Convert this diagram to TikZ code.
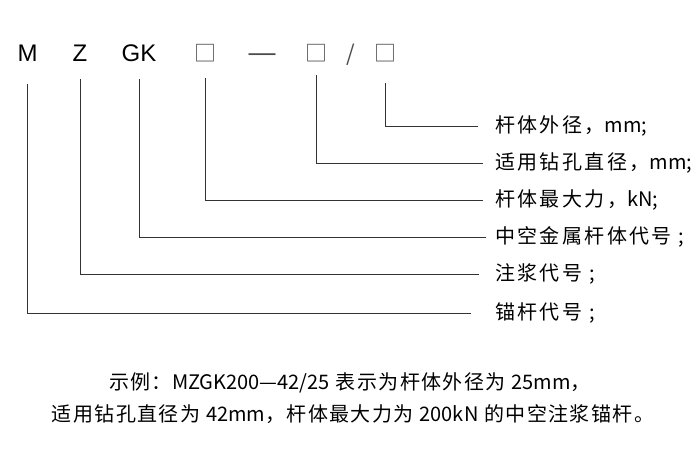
\documentclass[tikz,border=0pt]{standalone}
\usepackage{fontspec}
\setmainfont{Noto Sans CJK SC}
\newfontfamily\cjkfont{Noto Sans CJK SC}[LetterSpace=12]
\newfontfamily\cjknote{Noto Sans CJK SC}[LetterSpace=7]
\newfontfamily\cjkplain{Noto Sans CJK SC}
\newfontfamily\latinfont{Liberation Sans}
\newcommand{\lat}[1]{{\cjkplain #1}}
\begin{document}
\begin{tikzpicture}[x=1pt, y=-1pt,
    hdr/.style={anchor=base, inner sep=0pt, font=\latinfont\fontsize{24}{28}\selectfont},
    sym/.style={anchor=base, inner sep=0pt, text=black!70, font=\cjkfont\fontsize{22}{26}\selectfont},
    lbl/.style={anchor=west, inner sep=0pt, font=\cjkfont\fontsize{20}{24}\selectfont},
    note/.style={inner sep=0pt, font=\cjknote\fontsize{20}{24}\selectfont},
    lead/.style={line width=0.9pt, draw=black!80}]
    \useasboundingbox (0, 0) rectangle (700, 466);
    % code letters
    \node[hdr] (M) at (27.5, 61) {M};
    \node[hdr] (Z) at (80, 61) {Z};
    \node[hdr] (GK) at (139, 61) {GK};
    \node[sym] (b1) at (205, 61) {□};
    \node[sym, font=\latinfont\fontsize{27}{30}\selectfont] (dash) at (262, 61) {—};
    \node[sym] (b2) at (316.5, 61) {□};
    \node[sym] (slash) at (351, 61) {/};
    \node[sym] (b3) at (385, 61) {□};
    % meanings
    \node[lbl] (l1) at (495, 126) {杆体外径，\lat{mm;}};
    \node[lbl] (l2) at (495, 163) {适用钻孔直径，\lat{mm;}};
    \node[lbl] (l3) at (495, 200) {杆体最大力，\lat{kN;}};
    \node[lbl] (l4) at (495, 237) {中空金属杆体代号 ;};
    \node[lbl] (l5) at (495, 274) {注浆代号 ;};
    \node[lbl] (l6) at (495, 313) {锚杆代号 ;};
    % leaders
    \draw[lead, shorten <=22pt, shorten >=17pt] (b3.base) |- (l1.west);
    \draw[lead, shorten <=14pt, shorten >=12pt] (b2.base) |- (l2.west);
    \draw[lead, shorten <=17pt, shorten >=12pt] (b1.base) |- (l3.west);
    \draw[lead, shorten <=18pt, shorten >=9pt] (GK.base) |- (l4.west);
    \draw[lead, shorten <=18pt, shorten >=16pt] (Z.base) |- (l5.west);
    \draw[lead, shorten <=23pt, shorten >=24pt] (M.base) |- (l6.west);
    % example
    \node[note] (ex1) at (350, 383) {示例：\lat{MZGK200—42/25} 表示为杆体外径为 \lat{25mm}，};
    \node[note] (ex2) at (353, 414) {适用钻孔直径为 \lat{42mm}，杆体最大力为 \lat{200kN} 的中空注浆锚杆。};
\end{tikzpicture}
\end{document}
